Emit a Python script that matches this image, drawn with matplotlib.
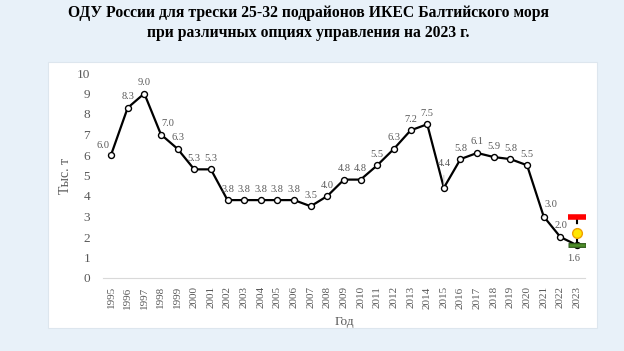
import matplotlib
matplotlib.use('Agg')
import matplotlib.pyplot as plt
from matplotlib.patches import Rectangle

plt.rcParams['font.family'] = ['Liberation Serif', 'DejaVu Serif']

years = list(range(1995, 2024))
tac = [6.0, 8.3, 9.0, 7.0, 6.3, 5.3, 5.3, 3.8, 3.8, 3.8, 3.8, 3.8, 3.5, 4.0,
       4.8, 4.8, 5.5, 6.3, 7.2, 7.5, 4.4, 5.8, 6.1, 5.9, 5.8, 5.5, 3.0, 2.0, 1.6]

# options for 2023
opt_year = 2023
opt_high = 3.0
opt_mid = 2.2
opt_low = 1.6

title = ('ОДУ России для трески 25-32 подрайонов ИКЕС Балтийского моря\n'
         'при различных опциях управления на 2023 г.')

# label offsets in pixels (dx, dy); points with leader lines are marked
offsets = {1995: (-8, 10), 1998: (7, 11), 2015: (0, 24), 2021: (7, 12),
           2022: (1, 11), 2023: (-3, -13)}
leaders = {1995, 1998, 2015, 2021}

grey = '#595959'

fig = plt.figure(figsize=(6.24, 3.51), dpi=100)
fig.patch.set_facecolor('#e8f1f9')
# white panel behind the chart
fig.patches.append(Rectangle((48 / 624, 1 - 328 / 351), 549 / 624, 266 / 351,
                             transform=fig.transFigure, facecolor='white',
                             edgecolor='#dde6ee', lw=0.8, zorder=0))

ax = fig.add_axes([102.7 / 624, 73 / 351, 482.6 / 624, 205 / 351])
ax.set_facecolor('none')
ax.set_zorder(2)

ax.plot(years, tac, color='black', lw=1.6, marker='o', ms=4.3,
        mfc='white', mec='black', mew=1.0, zorder=3)

for x, y in zip(years, tac):
    dx, dy = offsets.get(x, (0, 11))
    ax.annotate(f'{y:.1f}', (x, y), xytext=(dx * 0.72, dy * 0.72),
                textcoords='offset points', ha='center', va='center',
                fontsize=7.5, color=grey, zorder=4,
                arrowprops=dict(arrowstyle='-', color='#bfbfbf', lw=0.6,
                                shrinkA=3, shrinkB=2) if x in leaders else None)

# management options for 2023
ax.plot([opt_year, opt_year], [opt_low, opt_high], color='black', lw=1.5,
        ls=(0, (3, 2)), zorder=4)
ax.plot(opt_year, opt_high, marker='_', ms=13, mew=4, color='#ff0000', zorder=5)
ax.plot(opt_year, opt_low, marker='_', ms=13, mew=3.5, color='#2e5a1a', zorder=5)
ax.plot(opt_year, opt_low, marker='_', ms=11.5, mew=1.8, color='#4f8f2a', zorder=5)
ax.plot(opt_year, opt_mid, marker='o', ms=7, mfc='#ffe600', mec='#f0a000',
        mew=1, zorder=6)

ax.set_xlim(1994.5, 2023.5)
ax.set_ylim(0, 10)
ax.set_xticks(years)
ax.set_xticklabels([str(y) for y in years], rotation=90)
ax.set_yticks(range(0, 11))
ax.tick_params(axis='both', length=0, colors=grey)
ax.tick_params(axis='x', labelsize=8, pad=6)
ax.tick_params(axis='y', labelsize=9.5, pad=9)
for s in ['top', 'right', 'left']:
    ax.spines[s].set_visible(False)
ax.spines['bottom'].set_color('#d9d9d9')

ax.set_ylabel('Тыс. т', fontsize=10, color=grey)
ax.yaxis.set_label_coords(-0.064, 0.5)
ax.set_xlabel('Год', fontsize=9.5, color=grey)
ax.xaxis.set_label_coords(0.5, -0.185)

fig.text(0.494, 0.985, title, ha='center', va='top', fontsize=11.3,
         fontweight='bold', linespacing=1.3)

fig.savefig('out.png', dpi=100, facecolor=fig.get_facecolor())
